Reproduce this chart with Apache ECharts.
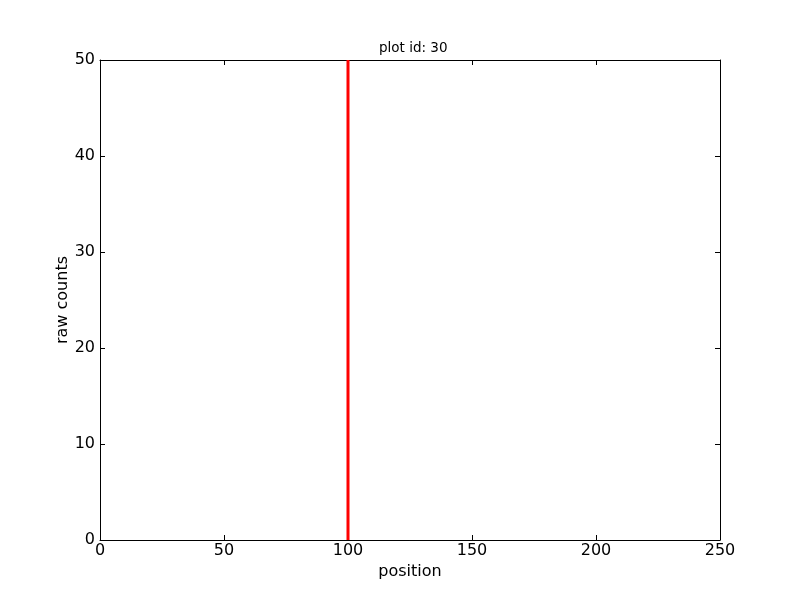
<!DOCTYPE html>
<html><head><meta charset="utf-8">
<script src="https://cdn.jsdelivr.net/npm/echarts@6/dist/echarts.min.js"></script>
<style>html,body{margin:0;padding:0;background:#fff}#c{width:800px;height:600px}</style>
</head><body><div id="c"></div>
<script>
const xTicks = [0, 50, 100, 150, 200, 250];
const yTicks = [0, 10, 20, 30, 40, 50];
const linePositions = [100, 100];
const lineCounts = [0, 50];
const titleText = 'plot id: 30';
const xName = 'position';
const yName = 'raw counts';

const chart = echarts.init(document.getElementById('c'), null, {renderer: 'canvas'});
const font = 'DejaVu Sans';
const axisCommon = {
  axisLine: {show: true, onZero: false, lineStyle: {color: '#000', width: 1}},
  axisTick: {show: true, inside: true, length: 5, lineStyle: {color: '#000'}},
  splitLine: {show: false}
};
chart.setOption({
  animation: false,
  title: {text: titleText, left: 374, top: 36,
    textStyle: {fontFamily: font, fontSize: 13.5, fontWeight: 'normal', color: '#000'}},
  grid: {left: 100, right: 80, top: 60, bottom: 60},
  xAxis: [
    Object.assign({type: 'value', min: xTicks[0], max: xTicks[xTicks.length-1], interval: 50, position: 'bottom',
      name: xName, nameLocation: 'middle', nameGap: 24, nameMoveOverlap: false,
      nameTextStyle: {fontFamily: font, fontSize: 16, color: '#000'},
      axisLabel: {fontFamily: font, fontSize: 16, color: '#000', margin: 3}}, axisCommon),
    Object.assign({type: 'value', min: xTicks[0], max: xTicks[xTicks.length-1], interval: 50, position: 'top',
      axisLabel: {show: false}}, axisCommon)
  ],
  yAxis: [
    Object.assign({type: 'value', min: yTicks[0], max: yTicks[yTicks.length-1], interval: 10, position: 'left',
      name: yName, nameLocation: 'middle', nameGap: 29, nameMoveOverlap: false,
      nameTextStyle: {fontFamily: font, fontSize: 16, color: '#000'},
      axisLabel: {fontFamily: font, fontSize: 16, color: '#000', margin: 5}}, axisCommon),
    Object.assign({type: 'value', min: yTicks[0], max: yTicks[yTicks.length-1], interval: 10, position: 'right',
      axisLabel: {show: false}}, axisCommon)
  ],
  series: [{
    type: 'line',
    data: linePositions.map((x, i) => [x, lineCounts[i]]),
    showSymbol: false,
    symbol: 'none',
    lineStyle: {color: '#ff0000', width: 3},
    clip: true
  }]
});
</script></body></html>
